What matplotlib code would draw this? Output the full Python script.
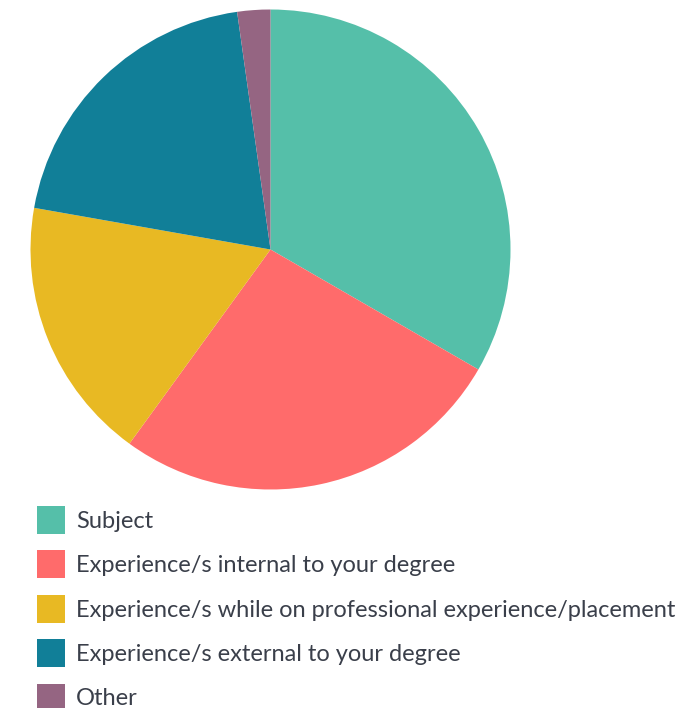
import matplotlib
matplotlib.use("Agg")
import matplotlib.pyplot as plt

plt.rcParams['font.family'] = ['Lato', 'DejaVu Sans']

labels = ["Subject",
          "Experience/s internal to your degree",
          "Experience/s while on professional experience/placement",
          "Experience/s external to your degree",
          "Other"]
counts = [15, 12, 8, 9, 1]
colors = ["#55BFA9", "#FF6B6B", "#E8B923", "#117F98", "#956582"]

W, H = 692, 708
fig = plt.figure(figsize=(W / 100, H / 100), dpi=100)

# pie: centre (270.5, 249.5) px, radius 240 px
ax = fig.add_axes([30.5 / W, (H - 489.5) / H, 480 / W, 480 / H])
wedges, _ = ax.pie(counts, colors=colors, startangle=90, counterclock=False,
                   radius=1, wedgeprops=dict(linewidth=0))
ax.set_xlim(-1, 1)
ax.set_ylim(-1, 1)
ax.set_aspect("equal")
ax.axis("off")

fs = 17
leg = fig.legend(wedges, labels, loc="upper left",
                 bbox_to_anchor=(37 / W, (H - 506) / H),
                 frameon=False, fontsize=fs, borderaxespad=0, borderpad=0,
                 handlelength=1.19, handleheight=1.447, handletextpad=0.45,
                 labelspacing=0.695, labelcolor="#3A3F4A")

fig.savefig("out.png", dpi=100)
